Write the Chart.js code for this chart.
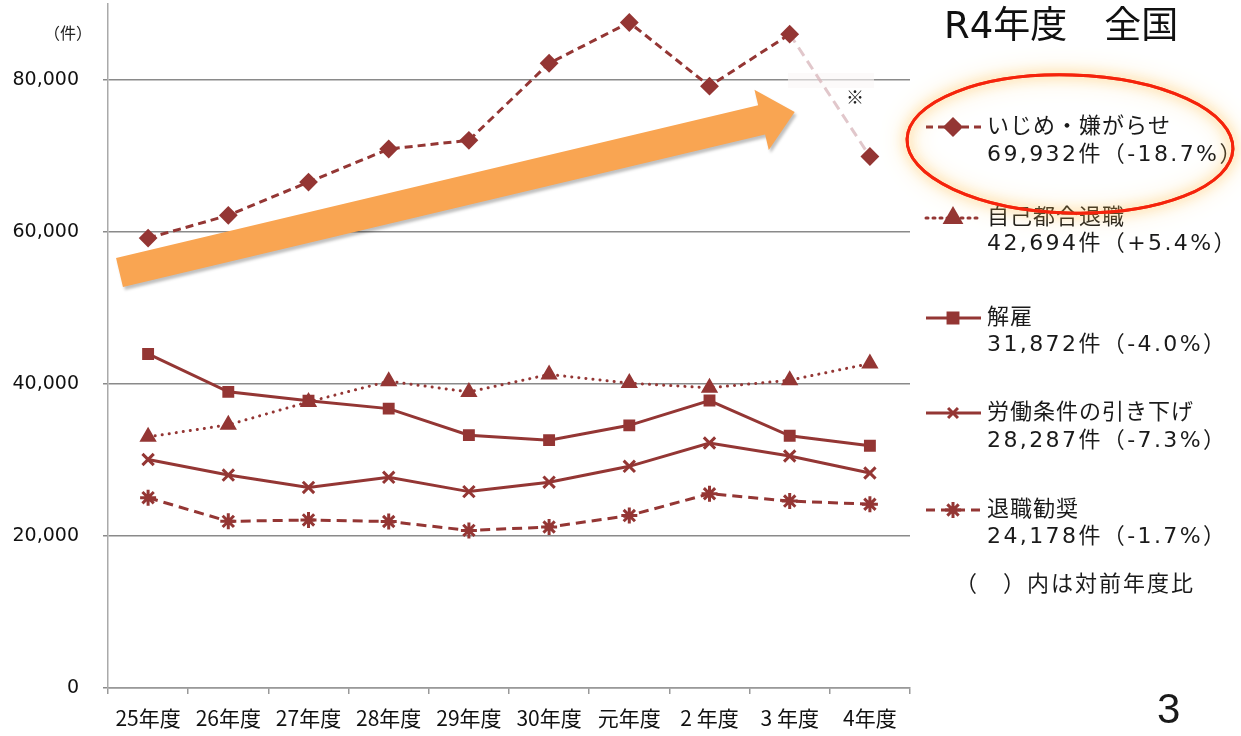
<!DOCTYPE html>
<html>
<head>
<meta charset="utf-8">
<script src="https://cdn.jsdelivr.net/npm/chart.js@4"></script>
<style>
html,body{margin:0;padding:0;background:#fff;}
#wrap{width:1241px;height:736px;position:relative;}
</style>
</head>
<body>
<div id="wrap"><canvas id="c" width="1241" height="736"></canvas></div>
<script>
// 年度
const years = ['25年度','26年度','27年度','28年度','29年度','30年度','元年度','2 年度','3 年度','4年度'];

// 件数
const ijime  = [59197, 62191, 66566, 70917, 72067, 82200, 87570, 79190, 86034, 69932];
const jiko   = [33049, 34626, 37648, 40364, 38954, 41258, 40116, 39498, 40501, 42694];
const kaiko  = [43956, 38966, 37787, 36760, 33269, 32614, 34561, 37826, 33189, 31872];
const rodo   = [30067, 28015, 26392, 27723, 25841, 27082, 29166, 32237, 30524, 28287];
const kansho = [25041, 21928, 22110, 21905, 20736, 21184, 22692, 25560, 24597, 24178];

const names  = ['いじめ・嫌がらせ','自己都合退職','解雇','労働条件の引き下げ','退職勧奨'];
const notes  = ['69,932件（-18.7%）','42,694件（+5.4%）','31,872件（-4.0%）','28,287件（-7.3%）','24,178件（-1.7%）'];
const yTicks = [0, 20000, 40000, 60000, 80000];

const red = '#943634';
const jp = '"Noto Sans CJK JP", "Noto Sans", sans-serif';
const mix = '"DejaVu Sans", "Noto Sans CJK JP", sans-serif';

function ds(label, data, style, dash, extra){
    return Object.assign({
        label, data, borderColor:red, backgroundColor:red,
        borderWidth:3, borderDash:dash, pointStyle:style,
        pointRadius:7, pointBorderWidth:2, pointBorderColor:red,
        tension:0, fill:false
    }, extra||{});
}

// faint box behind the ※ note
const under = {
    id:'under',
    beforeDatasetsDraw(chart){
        const c = chart.ctx;
        c.save();
        c.fillStyle = 'rgba(250,246,246,0.6)';
        c.fillRect(788, 73, 86, 15);
        c.restore();
    }
};

// legend + annotations drawn by hand
const deco = {
    id:'deco',
    afterDraw(chart){
        const c = chart.ctx;
        c.save();

        // (件)
        c.fillStyle = '#222';
        c.font = '16px ' + jp;
        c.textAlign = 'right'; c.textBaseline = 'middle';
        c.fillText('（件）', 92, 33);

        // ※
        c.textAlign = 'center';
        c.font = '18px ' + jp;
        c.fillText('※', 855, 97);

        // orange arrow
        c.save();
        c.translate(119.5, 272.5);
        c.rotate(Math.atan2(-160.5, 675.5));
        const L = 694, hl = 34, sw = 15, hw = 31;
        c.shadowColor = 'rgba(0,0,0,0.25)';
        c.shadowBlur = 3; c.shadowOffsetX = 2; c.shadowOffsetY = 3;
        c.fillStyle = '#f9a552';
        c.beginPath();
        c.moveTo(0, -sw); c.lineTo(L-hl, -sw); c.lineTo(L-hl, -hw);
        c.lineTo(L, 0); c.lineTo(L-hl, hw); c.lineTo(L-hl, sw); c.lineTo(0, sw);
        c.closePath(); c.fill();
        c.restore();

        // title
        c.fillStyle = '#111';
        c.textAlign = 'left';
        c.font = '37px ' + mix;
        c.fillText('R4年度　全国', 944, 28);

        // legend
        const ly = [[127,155],[218,244],[318,345],[413,441],[510,537]];
        const styles = [
            {p:'rectRot', d:[7,5], r:8},
            {p:'triangle', d:[2,5], r:9},
            {p:'rect', d:[], r:7},
            {p:'crossRot', d:[], r:7},
            {p:'star', d:[9,6], r:8}
        ];
        c.font = '22px ' + mix;
        for(let i=0;i<5;i++){
            const y = ly[i][0];
            c.strokeStyle = red; c.lineWidth = 3;
            c.setLineDash(styles[i].d);
            c.lineCap = i===1 ? 'round' : 'butt';
            c.beginPath(); c.moveTo(926, y); c.lineTo(981, y); c.stroke();
            c.setLineDash([]); c.lineCap = 'butt';
            c.fillStyle = red;
            Chart.helpers.drawPoint(c, {pointStyle:styles[i].p, radius:styles[i].r, borderWidth:3, rotation:0}, 953, y);
            if(styles[i].p!=='crossRot' && styles[i].p!=='star') c.fill();
            c.fillStyle = '#1a1a1a';
            c.letterSpacing = '1px';
            c.fillText(names[i], 987, y);
            c.letterSpacing = '2.4px';
            c.fillText(notes[i], 987, ly[i][1]);
        }
        c.letterSpacing = '2px';
        c.fillText('（　）内は対前年度比', 955, 585);
        c.letterSpacing = '0px';

        // page number
        c.textBaseline = 'alphabetic';
        c.font = '42px "Liberation Sans", sans-serif';
        c.fillText('3', 1157, 723);

        // red ellipse with glow
        c.save();
        c.strokeStyle = '#f5230c'; c.lineWidth = 3;
        c.shadowColor = 'rgba(255,190,80,1)';
        for(const b of [22, 12]){
            c.shadowBlur = b;
            c.beginPath();
            c.ellipse(1070, 144, 163, 69, 0.03, 0, Math.PI*2);
            c.stroke();
        }
        c.restore();

        c.restore();
    }
};

new Chart(document.getElementById('c'), {
    type:'line',
    data:{
        labels:years,
        datasets:[
            ds(names[0], ijime, 'rectRot', [8,5], {pointRadius:8,
                segment:{
                    borderColor:ctx => ctx.p0DataIndex===8 ? 'rgba(215,180,186,0.75)' : undefined,
                    borderDash:ctx => ctx.p0DataIndex===8 ? [10,6] : undefined
                }}),
            ds(names[1], jiko, 'triangle', [0.1,7], {borderCapStyle:'round', pointRadius:8}),
            ds(names[2], kaiko, 'rect', [], {pointRadius:7}),
            ds(names[3], rodo, 'crossRot', [], {pointRadius:8, pointBorderWidth:3}),
            ds(names[4], kansho, 'star', [10,6], {pointRadius:8, pointBorderWidth:3})
        ]
    },
    options:{
        responsive:false, animation:false,
        layout:{autoPadding:false, padding:{top:4, right:331, left:0, bottom:0}},
        plugins:{legend:{display:false}, tooltip:{enabled:false}},
        scales:{
            x:{
                offset:true,
                afterFit:s => { s.height = 48; s.paddingLeft = 0; s.paddingRight = 0; },
                grid:{offset:true, drawOnChartArea:false, drawTicks:true, tickLength:6, color:'#999', lineWidth:1.5},
                border:{color:'#999', width:1.5},
                ticks:{color:'#111', font:{size:21, family:jp}, padding:11, maxRotation:0, autoSkip:false}
            },
            y:{
                min:0, max:90000,
                afterFit:s => { s.width = 108; s.paddingTop = 0; s.paddingBottom = 0; },
                afterBuildTicks:s => { s.ticks = yTicks.map(v => ({value:v})); },
                grid:{color:'#8a8a8a', lineWidth:1.5, tickLength:5},
                border:{color:'#aaa', width:1.5},
                ticks:{color:'#111', padding:24, font:{size:19, family:'"DejaVu Sans", sans-serif'},
                    callback:v => v.toLocaleString('en-US')}
            }
        }
    },
    plugins:[under, deco]
});
</script>
</body>
</html>
